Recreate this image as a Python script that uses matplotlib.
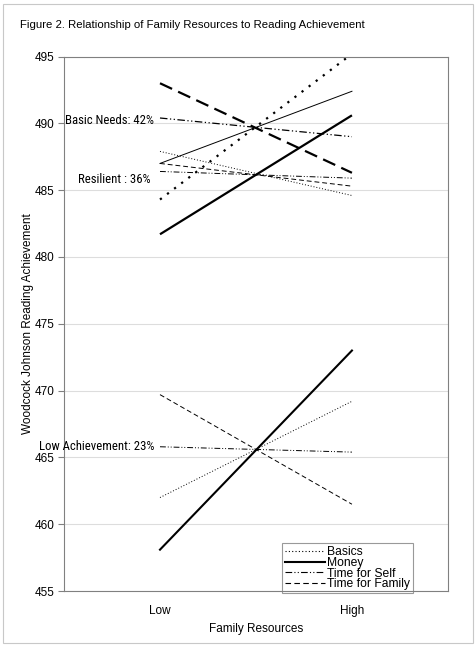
import matplotlib.pyplot as plt
from matplotlib import font_manager
from matplotlib.lines import Line2D
from matplotlib.patches import Rectangle

# categories on the x axis
resources = ['Low', 'High']
series = ['Basics', 'Money', 'Time for Self', 'Time for Family']

# reading achievement at Low / High family resources, one list per profile
basic_needs = [[484.3, 495.2], [481.7, 490.6], [490.4, 489.0], [493.0, 486.3]]
resilient = [[487.9, 484.6], [487.0, 492.4], [486.4, 485.9], [487.0, 485.3]]
low_achieve = [[462.0, 469.2], [458.1, 473.0], [465.8, 465.4], [469.7, 461.5]]

group_labels = ['Basic Needs: 42%', 'Resilient : 36%', 'Low Achievement: 23%']
label_values = [490.2, 485.8, 465.8]

plt.rcParams['font.family'] = ['Liberation Sans', 'DejaVu Sans']


def pick_narrow():
    # try to find a condensed face for the profile labels
    for fam, stretch in [('Liberation Sans Narrow', 'normal'),
                         ('Roboto Condensed', 'normal'),
                         ('DejaVu Sans', 'condensed')]:
        fp = font_manager.FontProperties(family=fam, stretch=stretch)
        try:
            path = font_manager.findfont(fp, fallback_to_default=False)
        except ValueError:
            continue
        name = path.lower()
        if 'narrow' in name or 'condensed' in name:
            return fam, stretch, 9.2
    return 'Liberation Sans', 'normal', 7.8


narrow_family, narrow_stretch, narrow_size = pick_narrow()

# line styles (dotted, solid, dash-dot, dashed)
thin_styles = [(0, (1, 2)), '-', (0, (6, 2, 1, 2, 1, 2)), (0, (5, 3))]
bold_styles = [(0, (1, 3)), '-', (0, (6, 2, 1, 2, 1, 2)), (0, (6, 3))]

fig = plt.figure(figsize=(4.76, 6.46), dpi=100)
ax = fig.add_axes([0.1345, 0.085, 0.8065, 0.8275])

x = list(range(len(resources)))

# Basic Needs profile: heavy lines
for i, vals in enumerate(basic_needs):
    lw = 0.9 if i == 2 else 1.6
    ax.plot(x, vals, color='black', lw=lw, linestyle=bold_styles[i],
            solid_capstyle='butt', dash_capstyle='butt')

# Resilient profile: thin lines
for i, vals in enumerate(resilient):
    ax.plot(x, vals, color='black', lw=0.7, linestyle=thin_styles[i])

# Low achievement profile
for i, vals in enumerate(low_achieve):
    lw = 1.5 if i == 1 else 0.7
    ax.plot(x, vals, color='black', lw=lw, linestyle=thin_styles[i])

for lab, v in zip(group_labels, label_values):
    dx = -7 if lab.startswith('Resilient') else -4
    ax.annotate(lab, xy=(0, v), xytext=(dx, 0), textcoords='offset points',
                ha='right', va='center', fontsize=narrow_size,
                family=narrow_family, fontstretch=narrow_stretch)

ax.set_xlim(-0.5, 1.5)
ax.set_ylim(455, 495)
ax.set_yticks(range(455, 496, 5))
ax.set_xticks(x)
ax.set_xticklabels(resources)
ax.tick_params(axis='x', length=0, pad=10, labelsize=8.5)
ax.tick_params(axis='y', length=4, color='#808080', pad=3, labelsize=8.5)
ax.grid(axis='y', color='#dddddd', lw=0.8)
ax.set_axisbelow(True)
for s in ax.spines.values():
    s.set_color('#808080')
    s.set_linewidth(0.8)

ax.set_xlabel('Family Resources', fontsize=8.5, labelpad=4)
ax.set_ylabel('Woodcock Johnson Reading Achievement', fontsize=8.5, labelpad=0)

handles = [
    Line2D([], [], color='black', lw=0.8, linestyle=thin_styles[0]),
    Line2D([], [], color='black', lw=1.5, linestyle='-'),
    Line2D([], [], color='black', lw=0.8, linestyle=thin_styles[2]),
    Line2D([], [], color='black', lw=0.8, linestyle=thin_styles[3]),
]
leg = ax.legend(handles, series, loc='upper left', bbox_to_anchor=(0.568, 0.09),
                fontsize=8.7, frameon=True, fancybox=False, handlelength=3.3,
                handletextpad=0.2, labelspacing=-0.1, borderpad=0.25,
                borderaxespad=0)
leg.get_frame().set_edgecolor('#808080')
leg.get_frame().set_linewidth(0.8)
leg.set_zorder(1.5)

fig.text(0.042, 0.962, 'Figure 2. Relationship of Family Resources to Reading Achievement',
         fontsize=8.2, va='center', ha='left')

fig.patches.append(Rectangle((0.006, 0.005), 0.988, 0.989, transform=fig.transFigure,
                             fill=False, edgecolor='#c8c8c8', lw=0.8))

fig.savefig('out.png', dpi=100)
